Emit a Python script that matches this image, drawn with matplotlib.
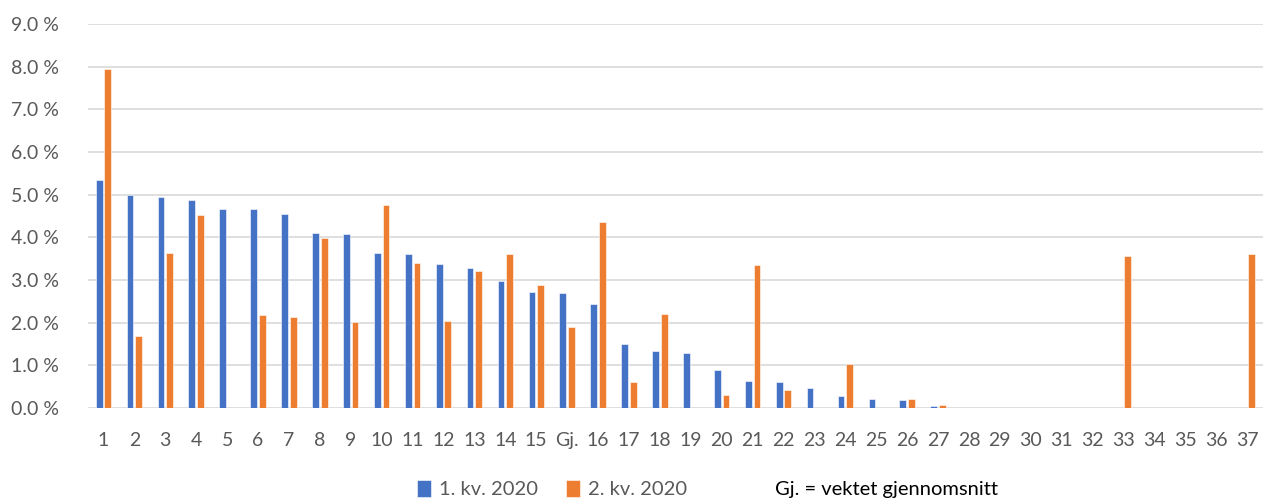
import numpy as np
import matplotlib.pyplot as plt

# categories on the x axis ("Gj." = weighted average)
categories = [str(i) for i in range(1, 16)] + ["Gj."] + [str(i) for i in range(16, 38)]

# values in percent
q1_2020 = [5.34, 4.99, 4.94, 4.88, 4.66, 4.66, 4.54, 4.10, 4.07, 3.64,
           3.60, 3.37, 3.28, 2.97, 2.71, 2.69, 2.44, 1.51, 1.33, 1.28,
           0.88, 0.64, 0.62, 0.48, 0.27, 0.20, 0.18, 0.04, 0, 0,
           0, 0, 0, 0, 0, 0, 0, 0]
q2_2020 = [7.94, 1.68, 3.63, 4.52, 0, 2.18, 2.14, 3.99, 2.02, 4.75,
           3.39, 2.03, 3.22, 3.62, 2.89, 1.90, 4.35, 0.62, 2.21, 0,
           0.30, 3.35, 0.43, 0, 1.04, 0, 0.22, 0.08, 0, 0,
           0, 0, 0, 3.56, 0, 0, 0, 3.60]

series_names = ["1. kv. 2020", "2. kv. 2020"]
note = "Gj. = vektet gjennomsnitt"

blue = "#4472C4"
orange = "#ED7D31"
grey_text = "#595959"

plt.rcParams['font.family'] = ['Lato', 'DejaVu Sans']

fig = plt.figure(figsize=(12.63, 5.0), dpi=100)
ax = fig.add_axes([0.0697, 0.184, 0.93, 0.768])

x = np.arange(len(categories))
w = 0.22
b1 = ax.bar(x - 0.14, q1_2020, w, color=blue, edgecolor="white", linewidth=0.4, zorder=3)
b2 = ax.bar(x + 0.14, q2_2020, w, color=orange, edgecolor="white", linewidth=0.4, zorder=3)

ax.set_xlim(-0.5, len(categories) - 0.5)
ax.set_ylim(0, 9)
ax.set_yticks(np.arange(0, 9.5, 1))
ax.set_yticklabels([f"{v:.1f} %" for v in np.arange(0, 9.5, 1)])
ax.set_xticks(x)
ax.set_xticklabels(categories)

ax.grid(axis="y", color="#D9D9D9", linewidth=1.2, zorder=0)
for s in ax.spines.values():
    s.set_visible(False)
ax.tick_params(axis="both", length=0, labelsize=14, colors=grey_text)
ax.tick_params(axis="x", pad=17)
ax.tick_params(axis="y", pad=21)

fig.legend([b1, b2], series_names, loc="center", bbox_to_anchor=(0.437, 0.022),
           ncol=2, frameon=False, fontsize=14.5, handlelength=0.7, handleheight=0.95,
           handletextpad=0.4, columnspacing=1.4, labelcolor=grey_text,
           borderpad=0.2)
fig.text(0.614, 0.02, note, fontsize=14.5, color="black", va="center", ha="left")

fig.savefig("out.png", dpi=100)
